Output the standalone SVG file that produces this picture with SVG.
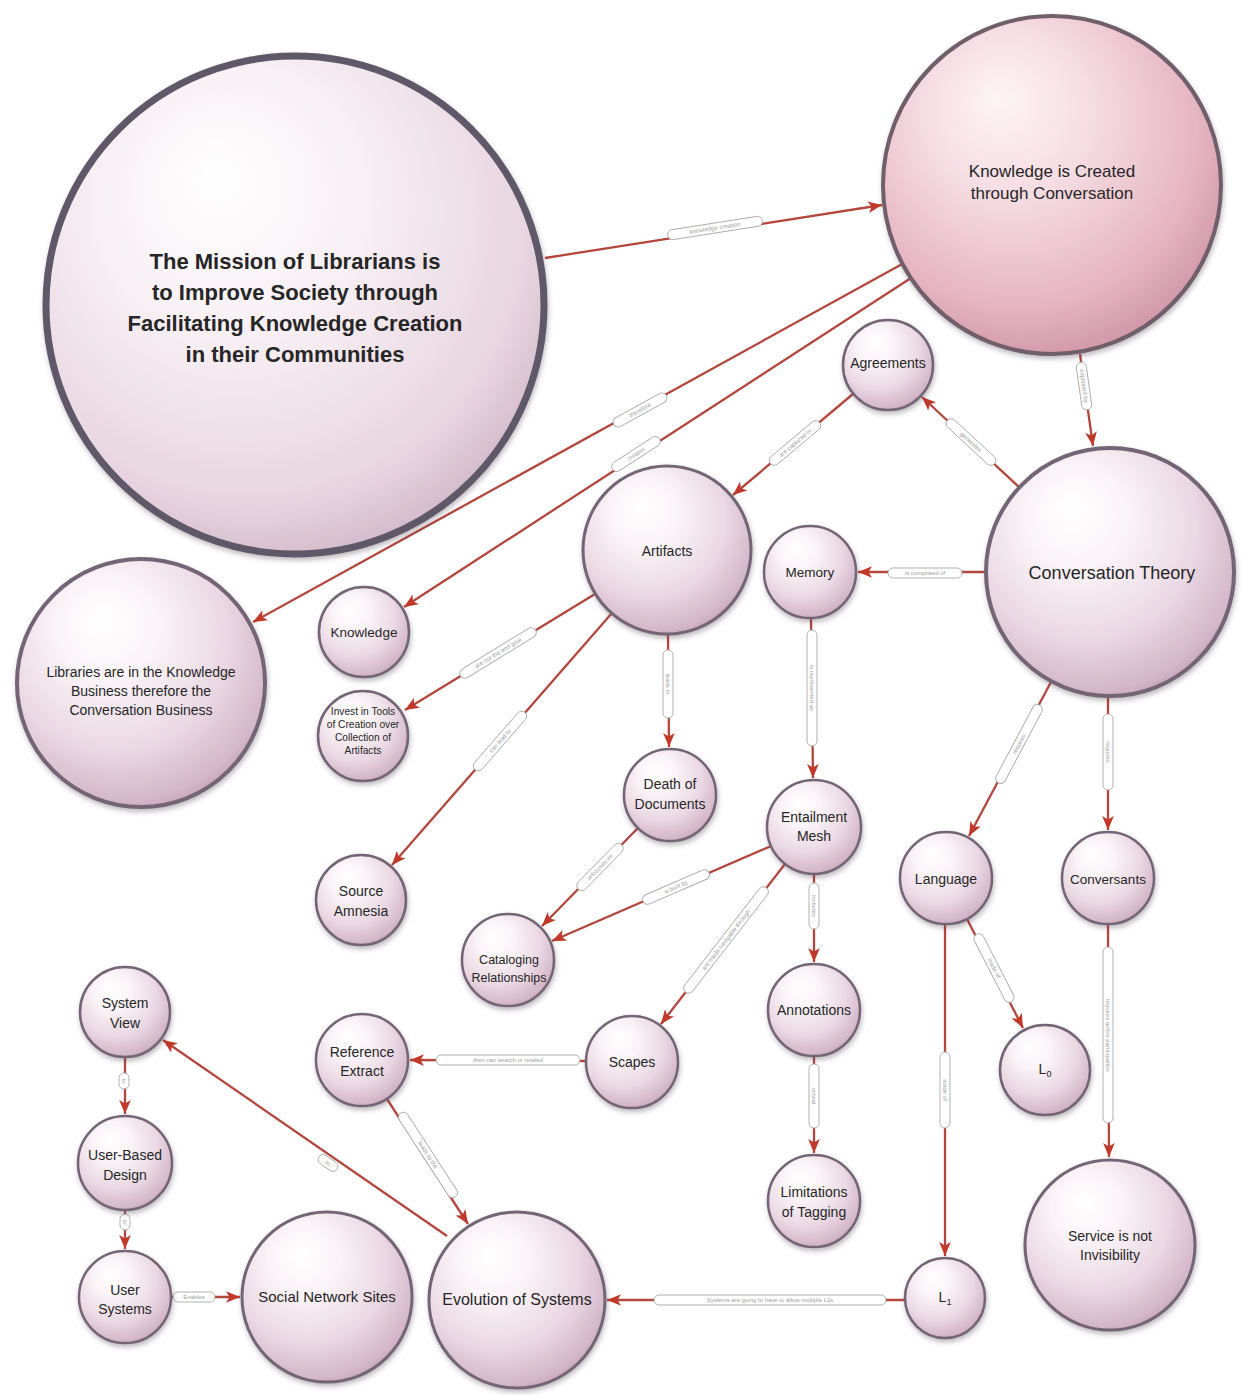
<svg xmlns="http://www.w3.org/2000/svg" width="1243" height="1395" viewBox="0 0 1243 1395">
<defs>
<radialGradient id="sph" cx="0.42" cy="0.36" r="0.7" fx="0.34" fy="0.24">
<stop offset="0" stop-color="#ffffff"/><stop offset="0.3" stop-color="#faf3f7"/><stop offset="0.65" stop-color="#ead8e3"/><stop offset="0.9" stop-color="#d4b7c8"/><stop offset="1" stop-color="#bd9cb1"/>
</radialGradient>
<radialGradient id="sphPink" cx="0.42" cy="0.36" r="0.7" fx="0.34" fy="0.24">
<stop offset="0" stop-color="#fdf4f6"/><stop offset="0.35" stop-color="#f6dde3"/><stop offset="0.75" stop-color="#e6b6c2"/><stop offset="1" stop-color="#cc91a2"/>
</radialGradient>
<radialGradient id="sphBig" cx="0.42" cy="0.36" r="0.7" fx="0.34" fy="0.24">
<stop offset="0" stop-color="#ffffff"/><stop offset="0.4" stop-color="#f7eff4"/><stop offset="0.8" stop-color="#e8d5e0"/><stop offset="1" stop-color="#cfb3c5"/>
</radialGradient>
<filter id="sh" x="-20%" y="-20%" width="140%" height="140%">
<feDropShadow dx="1" dy="3" stdDeviation="2.5" flood-color="#4a3a48" flood-opacity="0.35"/>
</filter>
<marker id="ah" viewBox="0 0 12 10" refX="12" refY="5" markerWidth="14" markerHeight="12" markerUnits="userSpaceOnUse" orient="auto">
<path d="M0,0 L12,5 L0,10 L3,5 Z" fill="#c0392b"/>
</marker>
<style>
.n circle{fill:url(#sph);stroke:#736574;stroke-width:2.5;filter:url(#sh)}
.n text{font-family:"Liberation Sans Narrow","Liberation Sans",Arial,sans-serif;fill:#262626;text-anchor:middle}
.e line{stroke:#b3463d;stroke-width:2.3;marker-end:url(#ah)}
.lb rect{fill:#ffffff;stroke:#a8a8a8;stroke-width:0.9}
.lb text{font-family:"Liberation Sans",Arial,sans-serif;font-size:6px;fill:#a0a0a0;text-anchor:middle}
</style>
</defs>
<rect width="1243" height="1395" fill="#ffffff"/>

<g id="connectors">
<g class="e">
<line x1="545" y1="258" x2="882" y2="205"/>
<line x1="904" y1="263" x2="253" y2="622"/>
<line x1="911" y1="278" x2="404" y2="607"/>
<line x1="1080" y1="354" x2="1093" y2="446"/>
<line x1="1019" y1="487" x2="922" y2="397"/>
<line x1="853" y1="394" x2="733" y2="495"/>
<line x1="985" y1="572" x2="858" y2="572"/>
<line x1="595" y1="594" x2="405" y2="710"/>
<line x1="612" y1="613" x2="392" y2="865"/>
<line x1="668" y1="634" x2="669" y2="747"/>
<line x1="811" y1="618" x2="813" y2="778"/>
<line x1="638" y1="828" x2="542" y2="926"/>
<line x1="771" y1="846" x2="552" y2="941"/>
<line x1="785" y1="864" x2="661" y2="1024"/>
<line x1="814" y1="874" x2="814" y2="962"/>
<line x1="1051" y1="682" x2="969" y2="836"/>
<line x1="1108" y1="697" x2="1108" y2="830"/>
<line x1="967" y1="919" x2="1023" y2="1028"/>
<line x1="945" y1="924" x2="945" y2="1256"/>
<line x1="1108" y1="924" x2="1109" y2="1157"/>
<line x1="814" y1="1056" x2="814" y2="1153"/>
<line x1="586" y1="1061" x2="410" y2="1060"/>
<line x1="387" y1="1099" x2="468" y2="1224"/>
<line x1="447" y1="1236" x2="163" y2="1040"/>
<line x1="125" y1="1057" x2="125" y2="1114"/>
<line x1="125" y1="1210" x2="125" y2="1249"/>
<line x1="171" y1="1297" x2="240" y2="1297"/>
<line x1="905" y1="1300" x2="607" y2="1300"/>
</g>
<g class="lb">
<g transform="translate(715,228) rotate(-8.9)"><rect x="-48" y="-5" width="96" height="10" rx="5"/><text y="2">knowledge creation</text></g>
<g transform="translate(640,410) rotate(-28.9)"><rect x="-30" y="-5" width="60" height="10" rx="5"/><text y="2">therefore</text></g>
<g transform="translate(636,454) rotate(-33)"><rect x="-28" y="-5" width="56" height="10" rx="5"/><text y="2">creates</text></g>
<g transform="translate(1084,386) rotate(82)"><rect x="-24" y="-5" width="48" height="10" rx="5"/><text y="2">explained by</text></g>
<g transform="translate(971,442) rotate(42.8)"><rect x="-32" y="-5" width="64" height="10" rx="5"/><text y="2">generates</text></g>
<g transform="translate(795,443) rotate(-40)"><rect x="-32" y="-5" width="64" height="10" rx="5"/><text y="2">are captured in</text></g>
<g transform="translate(925,573)"><rect x="-37" y="-5" width="74" height="10" rx="5"/><text y="2">is comprised of</text></g>
<g transform="translate(498,653) rotate(-31.4)"><rect x="-44" y="-5" width="88" height="10" rx="5"/><text y="2">are not the end goal</text></g>
<g transform="translate(500,741) rotate(-48.9)"><rect x="-38" y="-5" width="76" height="10" rx="5"/><text y="2">can lead to</text></g>
<g transform="translate(668,684) rotate(90)"><rect x="-34" y="-5" width="68" height="10" rx="5"/><text y="2">leads to</text></g>
<g transform="translate(812,688) rotate(90)"><rect x="-58" y="-5" width="116" height="10" rx="5"/><text y="2">is represented as</text></g>
<g transform="translate(600,867) rotate(-45.6)"><rect x="-31" y="-5" width="62" height="10" rx="5"/><text y="2">refocuses on</text></g>
<g transform="translate(676,887) rotate(-23.5)"><rect x="-36" y="-5" width="72" height="10" rx="5"/><text y="2">is built by</text></g>
<g transform="translate(726,940) rotate(-52.2)"><rect x="-66" y="-5" width="132" height="10" rx="5"/><text y="2">are made navigable through</text></g>
<g transform="translate(814,906) rotate(90)"><rect x="-23" y="-5" width="46" height="10" rx="5"/><text y="2">includes</text></g>
<g transform="translate(1019,744) rotate(-62)"><rect x="-44" y="-5" width="88" height="10" rx="5"/><text y="2">requires</text></g>
<g transform="translate(1108,752) rotate(90)"><rect x="-38" y="-5" width="76" height="10" rx="5"/><text y="2">requires</text></g>
<g transform="translate(994,968) rotate(62.8)"><rect x="-38" y="-5" width="76" height="10" rx="5"/><text y="2">made of</text></g>
<g transform="translate(945,1090) rotate(90)"><rect x="-38" y="-5" width="76" height="10" rx="5"/><text y="2">made of</text></g>
<g transform="translate(1108,1035) rotate(90)"><rect x="-88" y="-5" width="176" height="10" rx="5"/><text y="2">requires active participation</text></g>
<g transform="translate(814,1096) rotate(90)"><rect x="-32" y="-5" width="64" height="10" rx="5"/><text y="2">reveal</text></g>
<g transform="translate(508,1060)"><rect x="-72" y="-5" width="144" height="10" rx="5"/><text y="2">then can search or related</text></g>
<g transform="translate(428,1155) rotate(57)"><rect x="-50" y="-5" width="100" height="10" rx="5"/><text y="2">leads to the</text></g>
<g transform="translate(328,1163) rotate(34.6)"><rect x="-11" y="-5" width="22" height="10" rx="5"/><text y="2">to</text></g>
<g transform="translate(124,1081) rotate(90)"><rect x="-8" y="-5" width="16" height="10" rx="5"/><text y="2">to</text></g>
<g transform="translate(125,1222) rotate(90)"><rect x="-8" y="-5" width="16" height="10" rx="5"/><text y="2">to</text></g>
<g transform="translate(194,1297)"><rect x="-21" y="-5" width="42" height="10" rx="5"/><text y="2">Enables</text></g>
<g transform="translate(770,1300)"><rect x="-116" y="-5" width="232" height="10" rx="5"/><text y="2">Systems are going to have to allow multiple L1s</text></g>
</g>
</g>

<g id="n-mission" class="n"><circle cx="295" cy="305" r="249" style="fill:url(#sphBig);stroke:#5f5868;stroke-width:7"/>
<text font-size="22" font-weight="bold" fill="#1a1a1a"><tspan x="295" y="269">The Mission of Librarians is</tspan><tspan x="295" y="300">to Improve Society through</tspan><tspan x="295" y="331">Facilitating Knowledge Creation</tspan><tspan x="295" y="362">in their Communities</tspan></text></g>
<g id="n-kc" class="n"><circle cx="1052" cy="185" r="169" style="fill:url(#sphPink);stroke:#6f5e6a;stroke-width:4"/>
<text font-size="17"><tspan x="1052" y="177">Knowledge is Created</tspan><tspan x="1052" y="199">through Conversation</tspan></text></g>
<g id="n-agreements" class="n"><circle cx="888" cy="365" r="45"/><text x="888" y="368" font-size="14">Agreements</text></g>
<g id="n-ct" class="n"><circle cx="1110" cy="572" r="124" style="stroke-width:4"/><text x="1112" y="579" font-size="18">Conversation Theory</text></g>
<g id="n-artifacts" class="n"><circle cx="667" cy="550" r="84" style="stroke-width:3"/><text x="667" y="556" font-size="14">Artifacts</text></g>
<g id="n-memory" class="n"><circle cx="810" cy="572" r="46"/><text x="810" y="577" font-size="13.5">Memory</text></g>
<g id="n-knowledge" class="n"><circle cx="364" cy="632" r="45"/><text x="364" y="637" font-size="13.5">Knowledge</text></g>
<g id="n-invest" class="n"><circle cx="363" cy="736" r="45"/><text font-size="10.2"><tspan x="363" y="715">Invest in Tools</tspan><tspan x="363" y="728">of Creation over</tspan><tspan x="363" y="741">Collection of</tspan><tspan x="363" y="754">Artifacts</tspan></text></g>
<g id="n-libraries" class="n"><circle cx="141" cy="683" r="124" style="stroke-width:4"/><text font-size="14"><tspan x="141" y="677">Libraries are in the Knowledge</tspan><tspan x="141" y="696">Business therefore the</tspan><tspan x="141" y="715">Conversation Business</tspan></text></g>
<g id="n-death" class="n"><circle cx="670" cy="795" r="46"/><text font-size="14"><tspan x="670" y="789">Death of</tspan><tspan x="670" y="809">Documents</tspan></text></g>
<g id="n-entailment" class="n"><circle cx="814" cy="827" r="47"/><text font-size="14"><tspan x="814" y="822">Entailment</tspan><tspan x="814" y="841">Mesh</tspan></text></g>
<g id="n-language" class="n"><circle cx="946" cy="878" r="46"/><text x="946" y="884" font-size="14">Language</text></g>
<g id="n-conversants" class="n"><circle cx="1108" cy="878" r="46"/><text x="1108" y="884" font-size="13.5">Conversants</text></g>
<g id="n-source" class="n"><circle cx="361" cy="900" r="45"/><text font-size="14"><tspan x="361" y="896">Source</tspan><tspan x="361" y="916">Amnesia</tspan></text></g>
<g id="n-cataloging" class="n"><circle cx="508" cy="960" r="46"/><text font-size="12.5"><tspan x="509" y="964">Cataloging</tspan><tspan x="509" y="982">Relationships</tspan></text></g>
<g id="n-annotations" class="n"><circle cx="814" cy="1010" r="46"/><text x="814" y="1015" font-size="14">Annotations</text></g>
<g id="n-l0" class="n"><circle cx="1045" cy="1070" r="45"/><text x="1045" y="1074" font-size="14">L<tspan font-size="9" dy="3">0</tspan></text></g>
<g id="n-scapes" class="n"><circle cx="632" cy="1062" r="46"/><text x="632" y="1067" font-size="14">Scapes</text></g>
<g id="n-reference" class="n"><circle cx="362" cy="1060" r="46"/><text font-size="14"><tspan x="362" y="1057">Reference</tspan><tspan x="362" y="1076">Extract</tspan></text></g>
<g id="n-sysview" class="n"><circle cx="125" cy="1012" r="45"/><text font-size="14"><tspan x="125" y="1008">System</tspan><tspan x="125" y="1028">View</tspan></text></g>
<g id="n-ubd" class="n"><circle cx="125" cy="1163" r="47"/><text font-size="14"><tspan x="125" y="1160">User-Based</tspan><tspan x="125" y="1180">Design</tspan></text></g>
<g id="n-limitations" class="n"><circle cx="814" cy="1201" r="46"/><text font-size="14"><tspan x="814" y="1197">Limitations</tspan><tspan x="814" y="1217">of Tagging</tspan></text></g>
<g id="n-service" class="n"><circle cx="1110" cy="1245" r="85" style="stroke-width:3"/><text font-size="14"><tspan x="1110" y="1241">Service is not</tspan><tspan x="1110" y="1260">Invisibility</tspan></text></g>
<g id="n-usersys" class="n"><circle cx="125" cy="1297" r="46"/><text font-size="14"><tspan x="125" y="1295">User</tspan><tspan x="125" y="1314">Systems</tspan></text></g>
<g id="n-sns" class="n"><circle cx="327" cy="1297" r="85" style="stroke-width:3"/><text x="327" y="1302" font-size="15">Social Network Sites</text></g>
<g id="n-evolution" class="n"><circle cx="517" cy="1300" r="88" style="stroke-width:3"/><text x="517" y="1305" font-size="16">Evolution of Systems</text></g>
<g id="n-l1" class="n"><circle cx="945" cy="1298" r="40"/><text x="945" y="1302" font-size="14">L<tspan font-size="9" dy="3">1</tspan></text></g>
</svg>
